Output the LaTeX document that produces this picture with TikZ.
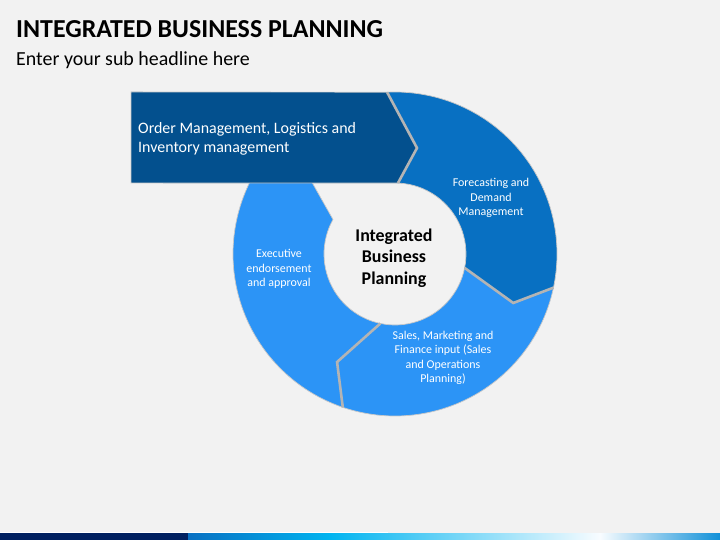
\documentclass[tikz,border=0pt]{standalone}
\usepackage{fontspec}
\setmainfont{Carlito}
\usetikzlibrary{positioning}
\definecolor{bg}{HTML}{F2F2F2}
\definecolor{navyrect}{HTML}{03508E}
\definecolor{foreblue}{HTML}{0870C2}
\definecolor{lightblue}{HTML}{2C94F6}
\definecolor{gapgray}{HTML}{B4B4B4}
\definecolor{edgegray}{HTML}{C8C8C8}
\definecolor{barnavy}{HTML}{002060}
\tikzset{
  seg/.style={draw=edgegray, line width=0.7bp},
  gap/.style={draw=gapgray, line width=2.6bp, line join=miter},
  lbl/.style={text=white, align=center, font=\fontsize{12}{14.5}\selectfont, inner sep=0pt}
}

\begin{document}
\begin{tikzpicture}[x=1bp, y=1bp]
\useasboundingbox (0,0) rectangle (720,540);
\fill [bg] (0,0) rectangle (720,540);
\coordinate (c) at (395,286);
\coordinate (rtop) at ([shift={(c)}]92.8:162);
\coordinate (rtip) at (417,392);
\coordinate (rbot) at ([shift={(c)}]87.6:71);
\coordinate (fout) at ([shift={(c)}]-12:162);
\coordinate (ftip) at ([shift={(c)}]-22.5:128);
\coordinate (fin) at ([shift={(c)}]-11.3:71);
\coordinate (sout) at ([shift={(c)}]-108.8:162);
\coordinate (stip) at ([shift={(c)}]-118.2:122.6);
\coordinate (sin) at ([shift={(c)}]-101.9:71);
% ring segments
\filldraw [seg, fill=lightblue] (sout) arc [start angle=-108.8, end angle=-210, radius=162]
  -- (292,393) -- ([shift={(c)}]150.9:71) arc [start angle=150.9, end angle=258.1, radius=71]
  -- (stip) -- cycle;
\filldraw [seg, fill=lightblue] (fout) arc [start angle=-12, end angle=-108.8, radius=162]
  -- (stip) -- (sin) arc [start angle=-101.9, end angle=-11.3, radius=71]
  -- (ftip) -- cycle;
\filldraw [seg, fill=foreblue] (rtop) arc [start angle=92.8, end angle=-12, radius=162]
  -- (ftip) -- (fin) arc [start angle=-11.3, end angle=87.6, radius=71]
  -- (rtip) -- cycle;
% top arrow box
\filldraw [seg, fill=navyrect] (131,448) -- (rtop) -- (rtip) -- (rbot) -- (131,357) -- cycle;
% gaps between the parts
\draw [gap] (rtop) -- (rtip) -- (rbot);
\draw [gap] (fout) -- (ftip) -- (fin);
\draw [gap] (sout) -- (stip) -- (sin);
% texts
\node [anchor=west, font=\fontsize{26}{30}\bfseries\selectfont, inner sep=0pt] (title) at (16,511) {INTEGRATED BUSINESS PLANNING};
\node [anchor=west, font=\fontsize{20}{24}\selectfont, inner sep=0pt] (subtitle) at (16,480) {Enter your sub headline here};
\node [anchor=west, text=white, align=left, font=\fontsize{16}{19.5}\selectfont, inner sep=0pt] (order) at (138,401) {Order Management, Logistics and\\Inventory management};
\node [lbl] (forecast) at (491,342) {Forecasting and\\Demand\\Management};
\node [lbl] (sales) at (443,182) {Sales, Marketing and\\Finance input (Sales\\and Operations\\Planning)};
\node [lbl] (exec) at (279,271) {Executive\\endorsement\\and approval};
\node [align=center, font=\fontsize{18}{21.5}\bfseries\selectfont, inner sep=0pt] (ibp) at (394,282) {Integrated\\Business\\Planning};
% bottom bar
\fill [white] (0,6.5) rectangle (388,7.5);
\fill [barnavy] (0,0) rectangle (188,6.5);
\shade [left color=foreblue, right color={rgb,255:red,0;green,180;blue,240}] (188,0) rectangle (330,6.5);
\shade [left color={rgb,255:red,0;green,180;blue,240}, right color={rgb,255:red,248;green,252;blue,255}] (330,0) rectangle (600,6.5);
\shade [left color={rgb,255:red,248;green,252;blue,255}, right color={rgb,255:red,16;green,144;blue,216}] (600,0) rectangle (720,6.5);
\end{tikzpicture}
\end{document}
